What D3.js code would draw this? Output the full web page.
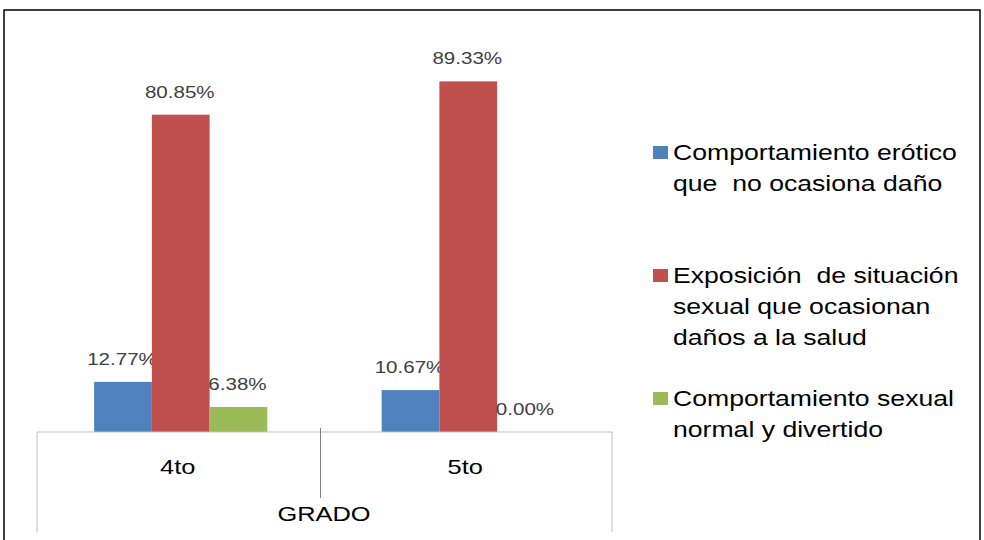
<!DOCTYPE html>
<html>
<head>
<meta charset="utf-8">
<script src="https://cdn.jsdelivr.net/npm/d3@7"></script>
<style>
  body { margin: 0; background: #fff; }
  svg text { font-family: "Liberation Sans", Arial, sans-serif; }
</style>
</head>
<body>
<div id="chart"></div>
<script>
    "use strict"
    // -------------------------------------
    // Data
    // -------------------------------------
    var grados = ['4to', '5to']
    var seriesNames = [
        ['Comportamiento erótico', 'que  no ocasiona daño'],
        ['Exposición  de situación', 'sexual que ocasionan', 'daños a la salud'],
        ['Comportamiento sexual', 'normal y divertido']
    ]
    var erotico = [12.77, 10.67]
    var exposicion = [80.85, 89.33]
    var normal = [6.38, 0.00]
    var colors = ['#4F81BD', '#C0504D', '#9BBB59']

    var series = [erotico, exposicion, normal]

    var W = 984, H = 540
    var stretch = 1.21 // the original text looks widened

    var svg = d3.select('#chart').append('svg')
        .attr('width', W)
        .attr('height', H)

    // helper for widened text
    function label(parent, tx, ty, str, size, fill, anchor) {
        return parent.append('text')
            .attr('transform', `translate(${tx},${ty}) scale(${stretch},1)`)
            .attr('text-anchor', anchor || 'middle')
            .attr('font-size', size)
            .attr('fill', fill)
            .style('white-space', 'pre')
            .text(str)
    }

    // outer frame
    svg.append('rect')
        .attr('x', 4).attr('y', 10)
        .attr('width', 976).attr('height', 560)
        .attr('fill', 'none')
        .attr('stroke', '#000')
        .attr('stroke-width', 1.5)

    // Scales
    var plotLeft = 37, plotRight = 612, baseY = 432
    var x = d3.scaleBand()
        .domain(grados)
        .range([plotLeft, plotRight])

    var xs = d3.scaleBand()
        .domain(d3.range(series.length))
        .range([0, x.bandwidth()])
        .paddingOuter(0.99)
        .paddingInner(0)

    var y = d3.scaleLinear()
        .domain([0, 100])
        .range([baseY, 39.5])

    // Bars
    var groups = svg.selectAll('.grado')
        .data(grados)
        .enter().append('g')
        .attr('class', 'grado')
        .attr('transform', d => `translate(${x(d)},0)`)

    groups.each(function (g, gi) {
        var sel = d3.select(this)
        series.forEach(function (vals, si) {
            var v = vals[gi]
            sel.append('rect')
                .attr('x', xs(si))
                .attr('y', y(v))
                .attr('width', xs.bandwidth())
                .attr('height', baseY - y(v))
                .attr('fill', colors[si])
            label(sel, xs(si) + xs.bandwidth() / 2 - 1, y(v) - 17, v.toFixed(2) + '%', 17, '#404040')
        })
    })

    // Category axis (table style)
    var axisColor = '#bfbfbf'
    svg.append('line')
        .attr('x1', plotLeft).attr('x2', plotRight)
        .attr('y1', baseY).attr('y2', baseY)
        .attr('stroke', axisColor)
    svg.append('line')
        .attr('x1', plotLeft).attr('x2', plotLeft)
        .attr('y1', baseY).attr('y2', 532)
        .attr('stroke', axisColor)
    svg.append('line')
        .attr('x1', plotRight).attr('x2', plotRight)
        .attr('y1', baseY).attr('y2', 532)
        .attr('stroke', axisColor)
    svg.append('line')
        .attr('x1', x('5to') - 4).attr('x2', x('5to') - 4)
        .attr('y1', 428).attr('y2', 498)
        .attr('stroke', '#7f7f7f')

    grados.forEach(function (d) {
        label(svg, x(d) + x.bandwidth() / 2 - 3, 474, d, 21, '#000')
    })

    label(svg, 324, 521, 'GRADO', 21, '#000')

    // Legend
    var legendTops = [152, 275, 398]
    var lineH = 31
    seriesNames.forEach(function (lines, i) {
        var g = svg.append('g')
            .attr('transform', `translate(653,${legendTops[i]})`)
        g.append('rect')
            .attr('x', 0).attr('y', -6)
            .attr('width', 15).attr('height', 13)
            .attr('fill', colors[i])
        lines.forEach(function (t, li) {
            label(g, 20, li * lineH + 8, t, 22, '#000', 'start')
        })
    })
</script>
</body>
</html>
